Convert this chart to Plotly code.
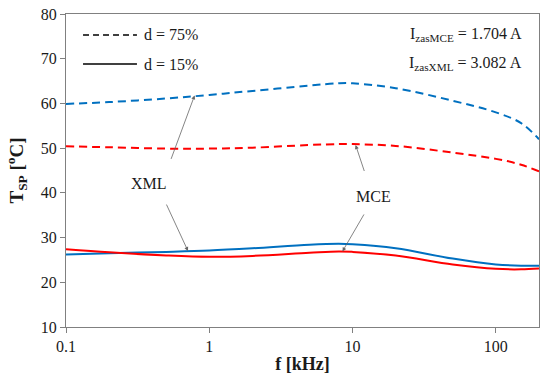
import numpy as np
import plotly.graph_objects as go

freq_khz = [0.1, 0.2, 0.5, 1, 2, 5, 8, 10, 20, 50, 100, 150, 200]
xml_d75 = [59.9, 60.3, 61.1, 61.9, 62.8, 64.0, 64.5, 64.5, 63.4, 60.6, 58.0, 55.6, 52.0]
mce_d75 = [50.4, 50.2, 49.9, 49.9, 50.1, 50.7, 50.9, 50.9, 50.5, 49.0, 47.6, 46.3, 44.8]
xml_d15 = [26.2, 26.5, 26.8, 27.1, 27.6, 28.4, 28.6, 28.5, 27.6, 25.3, 24.0, 23.7, 23.7]
mce_d15 = [27.4, 26.7, 26.0, 25.7, 25.9, 26.6, 26.9, 26.8, 26.0, 24.0, 23.0, 22.9, 23.1]

x_tick_vals = [0.1, 1, 10, 100]
x_tick_text = ["0.1", "1", "10", "100"]
y_tick_vals = [10, 20, 30, 40, 50, 60, 70, 80]

legend_labels = ["d = 75%", "d = 15%"]

BLUE = "#0070C0"
RED = "#FF0000"
FONT = "Times New Roman, Liberation Serif, serif"
TXT = "#1a1a1a"
DASH = "8px,5px"

fig = go.Figure()
for ys, col, dash in [(xml_d75, BLUE, DASH), (mce_d75, RED, DASH),
                      (xml_d15, BLUE, "solid"), (mce_d15, RED, "solid")]:
    fig.add_trace(go.Scatter(x=freq_khz, y=ys, mode="lines",
                             line=dict(color=col, width=2, dash=dash, shape="spline", smoothing=1.0),
                             showlegend=False, hoverinfo="skip"))

# legend drawn manually (long line samples as in the original)
shapes = []
annotations = []
for i, (lab, dash) in enumerate(zip(legend_labels, ["6px,4px", "solid"])):
    yy = 0.933 - i * 0.093
    shapes.append(dict(type="line", xref="paper", yref="paper", x0=0.036, x1=0.150, y0=yy, y1=yy,
                       line=dict(color="black", width=1.5, dash=dash)))
    annotations.append(dict(x=0.160, y=yy, xref="paper", yref="paper", xanchor="left", yanchor="middle",
                            text=lab, showarrow=False, font=dict(size=16, family=FONT, color=TXT)))

annotations += [
    dict(x=0.968, y=0.933, xref="paper", yref="paper", xanchor="right", yanchor="middle",
         text="I<sub>zasMCE</sub> = 1.704 A", showarrow=False, font=dict(size=16, family=FONT, color=TXT)),
    dict(x=0.968, y=0.843, xref="paper", yref="paper", xanchor="right", yanchor="middle",
         text="I<sub>zasXML</sub> = 3.082 A", showarrow=False, font=dict(size=16, family=FONT, color=TXT)),
    dict(x=np.log10(0.378), y=42.1, xref="x", yref="y", text="XML", showarrow=False,
         font=dict(size=16, family=FONT, color=TXT)),
    dict(x=np.log10(14.0), y=39.2, xref="x", yref="y", text="MCE", showarrow=False,
         font=dict(size=16, family=FONT, color=TXT)),
]
arrow_common = dict(xref="x", yref="y", text=" ", showarrow=True, arrowhead=2,
                    arrowsize=1, arrowwidth=0.8, arrowcolor="#666666", standoff=0)
annotations += [
    dict(x=np.log10(0.79), y=61.8, ax=-27, ay=73, **arrow_common),
    dict(x=np.log10(0.71), y=27.0, ax=-25, ay=-54, **arrow_common),
    dict(x=np.log10(10.5), y=50.7, ax=12, ay=36, **arrow_common),
    dict(x=np.log10(8.5), y=26.9, ax=25, ay=-43, **arrow_common),
]

fig.update_layout(
    width=550, height=377,
    margin=dict(l=66, r=11, t=14, b=50),
    paper_bgcolor="white", plot_bgcolor="white",
    font=dict(family=FONT, size=16, color=TXT),
    showlegend=False,
    annotations=annotations,
    shapes=shapes,
    xaxis=dict(type="log", range=[-1, np.log10(200)], tickvals=x_tick_vals, ticktext=x_tick_text,
               showgrid=False, zeroline=False, showline=True, linecolor="#808080", linewidth=1,
               mirror=True, ticks="outside", ticklen=5, tickcolor="#808080", automargin=False,
               ticklabeloverflow="allow",
               title=dict(text="<b>f [kHz]</b>", font=dict(size=18, family=FONT), standoff=3),
               tickfont=dict(size=16, family=FONT)),
    yaxis=dict(range=[10, 80], tickvals=y_tick_vals, showgrid=False, zeroline=False,
               showline=True, linecolor="#808080", linewidth=1, mirror=True, automargin=False,
               ticks="outside", ticklen=5, tickcolor="#808080", ticklabeloverflow="allow",
               title=dict(text="<b>T<sub>SP</sub> [<sup>o</sup>C]</b>", font=dict(size=19, family=FONT), standoff=12),
               tickfont=dict(size=16, family=FONT)),
)

# remove the default 8px page margin so the figure sits at the window's top-left corner
fig.write_html("out.html", config={"displayModeBar": False},
               post_script="document.body.style.margin='0';")
